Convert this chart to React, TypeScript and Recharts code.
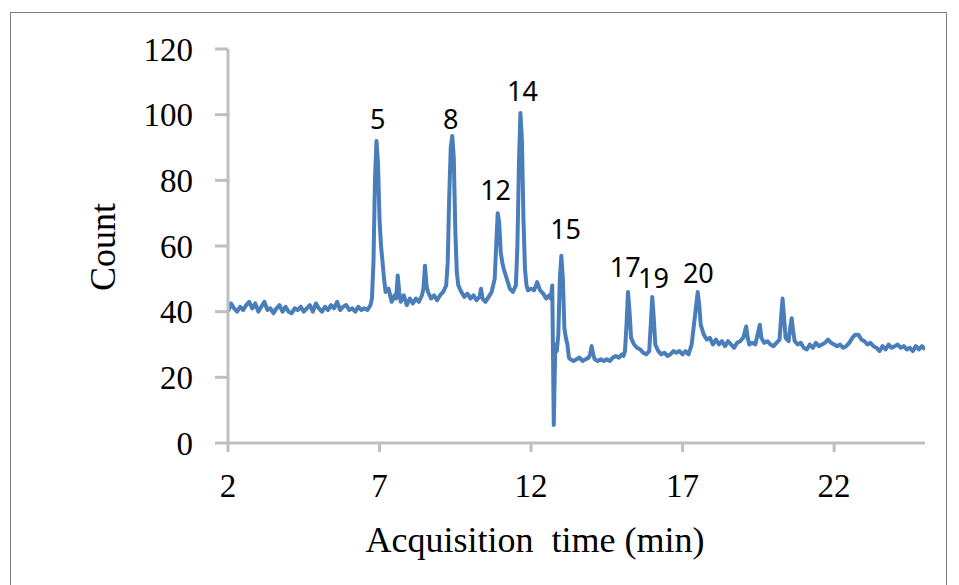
import React from 'react';
import { ComposedChart, Line, XAxis, YAxis, ReferenceDot } from 'recharts';

// acquisition time (min)
const times = [
  2.0, 2.1, 2.2, 2.3, 2.4, 2.5, 2.6, 2.7, 2.8, 2.9,
  3.0, 3.1, 3.2, 3.3, 3.4, 3.5, 3.6, 3.7, 3.8, 3.9,
  4.0, 4.1, 4.2, 4.3, 4.4, 4.5, 4.6, 4.7, 4.8, 4.9,
  5.0, 5.1, 5.2, 5.3, 5.4, 5.5, 5.6, 5.7, 5.8, 5.9,
  6.0, 6.1, 6.2, 6.3, 6.4, 6.5, 6.6, 6.7,
  6.75, 6.8, 6.85, 6.9, 6.95, 7.0, 7.05, 7.1, 7.15, 7.2,
  7.3, 7.4, 7.5, 7.55, 7.6, 7.65, 7.7, 7.8, 7.9, 8.0,
  8.1, 8.2, 8.3, 8.4, 8.45, 8.5, 8.55, 8.6, 8.7, 8.8,
  8.9, 9.0, 9.1, 9.2, 9.25, 9.3, 9.35, 9.4, 9.45, 9.5,
  9.55, 9.6, 9.7, 9.8, 9.9, 10.0, 10.1, 10.2, 10.3, 10.35,
  10.4, 10.5, 10.6, 10.7, 10.8, 10.85, 10.9, 10.95, 11.0, 11.05,
  11.1, 11.2, 11.3, 11.4, 11.5, 11.55, 11.6, 11.65, 11.7, 11.75,
  11.8, 11.85, 11.9, 12.0, 12.1, 12.2, 12.3, 12.4, 12.5, 12.6,
  12.65, 12.7, 12.75, 12.8, 12.85, 12.9, 12.95, 13.0, 13.05, 13.1,
  13.15, 13.2, 13.25, 13.3, 13.4, 13.5, 13.6, 13.7, 13.8, 13.9,
  13.95, 14.0, 14.05, 14.1, 14.2, 14.3, 14.4, 14.5, 14.6, 14.7,
  14.8, 14.9, 15.0, 15.05, 15.1, 15.15, 15.2, 15.25, 15.3, 15.4,
  15.5, 15.6, 15.7, 15.8, 15.9, 15.95, 16.0, 16.05, 16.1, 16.2,
  16.3, 16.4, 16.5, 16.6, 16.7, 16.8, 16.9, 17.0, 17.1, 17.2,
  17.3, 17.4, 17.5, 17.55, 17.6, 17.7, 17.8, 17.9, 18.0, 18.1,
  18.2, 18.3, 18.4, 18.5, 18.6, 18.7, 18.8, 18.9, 19.0, 19.1,
  19.15, 19.2, 19.3, 19.4, 19.5, 19.55, 19.6, 19.7, 19.8, 19.9,
  20.0, 20.1, 20.2, 20.25, 20.3, 20.35, 20.4, 20.5, 20.55, 20.6,
  20.65, 20.7, 20.8, 20.9, 21.0, 21.1, 21.2, 21.3, 21.4, 21.5,
  21.6, 21.7, 21.8, 21.9, 22.0, 22.1, 22.2, 22.3, 22.4, 22.5,
  22.6, 22.7, 22.8, 22.9, 23.0, 23.1, 23.2, 23.3, 23.4, 23.5,
  23.6, 23.7, 23.8, 23.9, 24.0, 24.1, 24.2, 24.3, 24.4, 24.5,
  24.6, 24.7, 24.8, 24.9, 25.0,
];

// counts, same order as times
const counts = [
  40, 42.5, 41, 40, 41.5, 40.5, 42, 43, 41, 42.5,
  40, 41.5, 43, 40.5, 41, 39.5, 41, 42, 40, 41.5,
  40, 39.5, 41, 40.5, 41.5, 40, 41, 42, 40, 42.5,
  41, 40, 41.5, 40.5, 42, 41, 43, 40.5, 41.5, 42,
  40.5, 41, 40, 41.5, 40.5, 41, 40.5, 42,
  44, 55, 80, 92, 85, 68, 60, 55, 50, 46,
  47, 43, 45, 44, 51, 46, 43, 45, 42, 44,
  42.5, 44, 43, 45, 47, 54, 48, 46, 44, 45,
  43.5, 45, 46, 48, 55, 75, 90, 93.5, 87, 65,
  52, 48, 46, 44.5, 45.5, 44, 45, 43.5, 44.5, 47,
  44, 43, 44.5, 46, 50, 60, 70, 67, 58, 55,
  53, 50, 47, 46, 48, 60, 85, 100.5, 92, 68,
  53, 48, 46.5, 47, 46.5, 49, 46.5, 45.5, 44, 45,
  44, 48, 5.5, 30, 28, 33, 50, 57, 50, 35,
  32, 30, 26, 25.5, 25, 25.5, 26, 25, 25.5, 26,
  27, 29.5, 27, 25.5, 25, 25.5, 25, 25.5, 25, 26,
  26.5, 26, 27, 26.5, 28, 36, 46, 40, 32, 30,
  29, 28.5, 27.5, 27, 28, 36, 44.5, 38, 30, 28,
  27, 27.5, 26.5, 27, 28, 27.5, 28, 27, 28, 27,
  30, 38, 46, 42, 36, 33, 31.5, 32, 30, 31.5,
  30, 31, 29.5, 31, 30, 29, 30.5, 31, 32, 35.5,
  32, 30, 30.5, 30, 34, 36, 32, 30.5, 31, 30,
  29.5, 30.5, 31.5, 38, 44, 38, 32, 31, 35, 38,
  34, 31, 30, 30.5, 29, 28.5, 30, 29, 30.5, 29.5,
  30, 30.5, 31.5, 30.5, 30, 29.5, 30, 29, 29.5, 30.5,
  32, 33, 33, 31.5, 31, 30, 30.5, 29.5, 29, 28,
  29.5, 28.5, 30, 29, 29.5, 30, 29, 29.5, 28.5, 29,
  28, 29.5, 28.5, 29.5, 28.5,
];

// peak numbers and where their labels sit (time, count)
const peakNames = ['5', '8', '12', '14', '15', '17', '19', '20'];
const peakTimes = [6.94, 9.35, 10.83, 11.72, 13.14, 15.11, 16.04, 17.52];
const peakLabelCounts = [98.7, 98.7, 76.8, 107.2, 65.2, 53.6, 50, 51.8];

const xTicks = [2, 7, 12, 17, 22];
const yTicks = [0, 20, 40, 60, 80, 100, 120];

const data = times.map((t, i) => ({ t, count: counts[i] }));

const axisGrey = '#bfbfbf';
const serif = '"Liberation Serif", "Times New Roman", serif';

export default function App() {
  return (
    <div style={{ position: 'relative', width: 959, height: 585, overflow: 'hidden', background: '#fff' }}>
      <style>{'body{margin:0}'}</style>
      {/* outer chart frame */}
      <div
        style={{
          position: 'absolute',
          left: 10,
          top: 12,
          width: 937,
          height: 600,
          border: '1.5px solid #7f7f7f',
          boxSizing: 'border-box',
        }}
      />
      <div style={{ position: 'absolute', left: 0, top: 0 }}>
        <ComposedChart
          width={959}
          height={585}
          data={data}
          margin={{ top: 49, right: 34, bottom: 82, left: 0 }}
        >
          <XAxis
            dataKey="t"
            type="number"
            domain={[2, 25]}
            ticks={xTicks}
            allowDataOverflow
            height={60}
            axisLine={{ stroke: axisGrey, strokeWidth: 3 }}
            tickLine={{ stroke: axisGrey, strokeWidth: 3 }}
            tickSize={9}
            tickMargin={22}
            tick={{ fill: '#000', fontSize: 33, fontFamily: serif }}
          />
          <YAxis
            type="number"
            domain={[0, 120]}
            ticks={yTicks}
            width={228}
            axisLine={{ stroke: axisGrey, strokeWidth: 3 }}
            tickLine={{ stroke: axisGrey, strokeWidth: 3 }}
            tickSize={13}
            tickMargin={22}
            tick={{ fill: '#000', fontSize: 33, fontFamily: serif }}
          />
          <Line
            dataKey="count"
            type="linear"
            stroke="#4a7ebb"
            strokeWidth={4}
            strokeLinejoin="round"
            dot={false}
            isAnimationActive={false}
          />
          {peakNames.map((name, i) => (
            <ReferenceDot
              key={name}
              x={peakTimes[i]}
              y={peakLabelCounts[i]}
              r={1}
              fill="none"
              stroke="none"
              label={{
                value: name,
                position: 'center',
                fill: '#000',
                fontSize: 27,
                fontFamily: '"Noto Sans", "Open Sans", sans-serif',
              }}
            />
          ))}
        </ComposedChart>
      </div>
      <div
        style={{
          position: 'absolute',
          left: 103,
          top: 247,
          transform: 'translate(-50%, -50%) rotate(-90deg)',
          fontFamily: serif,
          fontSize: 36,
          whiteSpace: 'nowrap',
          lineHeight: 1,
        }}
      >
        Count
      </div>
      <div
        style={{
          position: 'absolute',
          left: 535,
          top: 540,
          transform: 'translate(-50%, -50%)',
          fontFamily: serif,
          fontSize: 36,
          whiteSpace: 'pre',
          lineHeight: 1,
        }}
      >
        {'Acquisition  time (min)'}
      </div>
    </div>
  );
}
